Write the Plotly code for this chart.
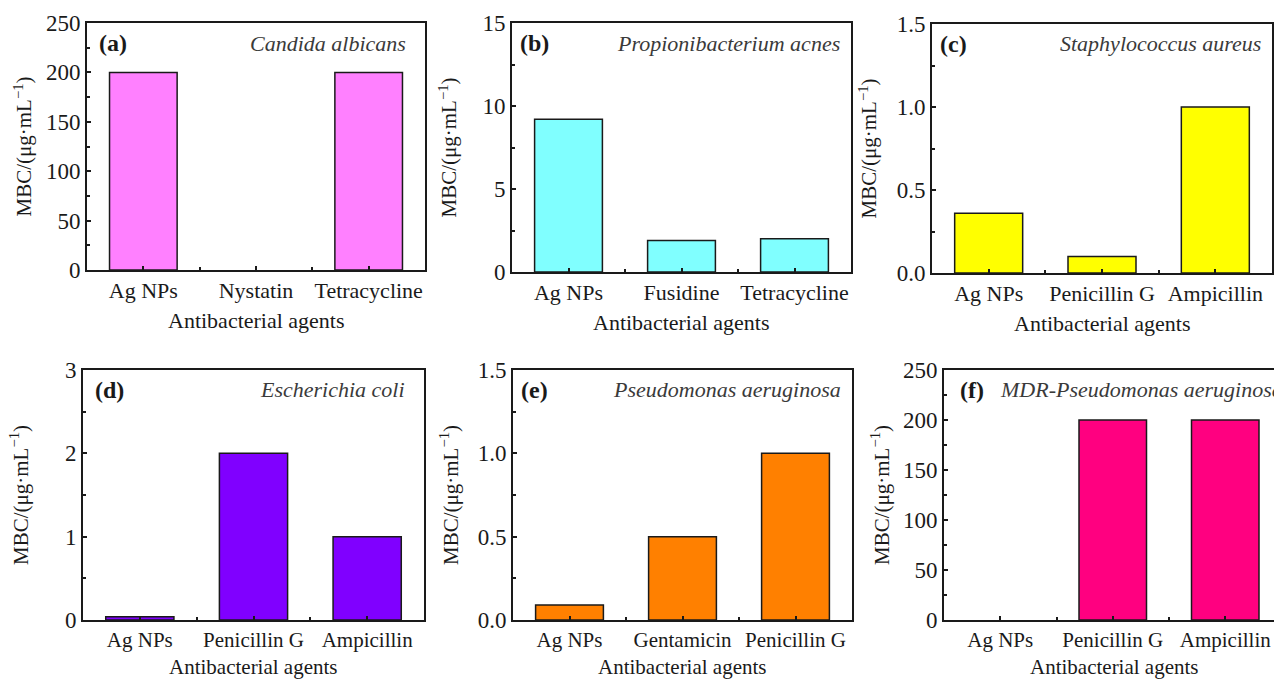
import plotly.graph_objects as go

W, H = 1274, 679

# ---- data ----
cats_a = ["Ag NPs", "Nystatin", "Tetracycline"]
vals_a = [200, 0, 200]
cats_b = ["Ag NPs", "Fusidine", "Tetracycline"]
vals_b = [9.2, 1.9, 2.0]
cats_c = ["Ag NPs", "Penicillin G", "Ampicillin"]
vals_c = [0.36, 0.10, 1.0]
cats_d = ["Ag NPs", "Penicillin G", "Ampicillin"]
vals_d = [0.04, 2.0, 1.0]
cats_e = ["Ag NPs", "Gentamicin", "Penicillin G"]
vals_e = [0.09, 0.5, 1.0]
cats_f = ["Ag NPs", "Penicillin G", "Ampicillin"]
vals_f = [0, 200, 200]

labels = ["(a)", "(b)", "(c)", "(d)", "(e)", "(f)"]
species = ["Candida albicans", "Propionibacterium acnes", "Staphylococcus aureus",
           "Escherichia coli", "Pseudomonas aeruginosa", "MDR-Pseudomonas aeruginosa"]
y_max = [250, 15, 1.5, 3, 1.5, 250]
y_dtick = [50, 5, 0.5, 1, 0.5, 50]
y_fmt = ["d", "d", ".1f", "d", ".1f", "d"]
colors = ["#FF80FF", "#80FFFF", "#FFFF00", "#8000FF", "#FF8000", "#FF0080"]
x_title = "Antibacterial agents"
y_title = "MBC/(μg·mL<sup>−1</sup>)"

panels = [(cats_a, vals_a), (cats_b, vals_b), (cats_c, vals_c),
          (cats_d, vals_d), (cats_e, vals_e), (cats_f, vals_f)]

# ---- layout geometry (pixels) ----
boxes = [(87, 425, 23, 270), (512, 851, 23, 272), (932, 1272, 24, 273),
         (83, 424, 370, 620), (513, 852, 370, 620), (944, 1274, 370, 620)]

FONT = "Liberation Serif"
INK = "#1a1a1a"

fig = go.Figure()
annotations = []
layout = dict(width=W, height=H, margin=dict(l=0, r=0, t=0, b=0),
              paper_bgcolor="white", plot_bgcolor="white", showlegend=False,
              font=dict(family=FONT, size=22, color=INK))

for i, ((cats, vals), (x0, x1, y0, y1)) in enumerate(zip(panels, boxes)):
    n = i + 1
    xa = "x" if n == 1 else f"x{n}"
    ya = "y" if n == 1 else f"y{n}"
    xs = list(range(len(cats)))
    fig.add_trace(go.Bar(x=xs, y=vals, xaxis=xa, yaxis=ya, width=0.6,
                         marker=dict(color=colors[i],
                                     line=dict(color=INK, width=[1.5 if v > 0 else 0 for v in vals]))))
    xr_end = 2.5 if n != 6 else -0.5 + (x1 - x0) / 112.5
    layout["xaxis" if n == 1 else f"xaxis{n}"] = dict(
        domain=[x0 / W, x1 / W], anchor=ya, range=[-0.5, xr_end],
        tickmode="array", tickvals=xs, ticktext=cats,
        ticks="inside", ticklen=4, tickwidth=2, tickcolor=INK,
        minor=dict(tickmode="array", tickvals=[0.5, 1.5], ticks="inside",
                   ticklen=3, tickwidth=2, tickcolor=INK),
        showline=True, linewidth=2, linecolor=INK, mirror=True,
        showgrid=False, zeroline=False, fixedrange=True, automargin=False,
        tickfont=dict(family=FONT, size=22 if n <= 3 else 21, color=INK))
    layout["yaxis" if n == 1 else f"yaxis{n}"] = dict(
        domain=[1 - y1 / H, 1 - y0 / H], anchor=xa, range=[0, y_max[i]],
        tick0=0, dtick=y_dtick[i], tickformat=y_fmt[i],
        ticks="inside", ticklen=4, tickwidth=2, tickcolor=INK,
        minor=dict(dtick=y_dtick[i] / 2, ticks="inside", ticklen=3,
                   tickwidth=2, tickcolor=INK),
        showline=True, linewidth=2, linecolor=INK, mirror=(n != 6),
        showgrid=False, zeroline=False, fixedrange=True, automargin=False,
        tickfont=dict(family=FONT, size=23, color=INK))
    # panel label
    lx = x0 + (14 if n == 6 else (10 if n in (1, 4) else 6))
    annotations.append(dict(text=f"<b>{labels[i]}</b>", x=lx / W, y=1 - (y0 + 20) / H,
                            xref="paper", yref="paper", xanchor="left", yanchor="middle",
                            showarrow=False, font=dict(family=FONT, size=24, color=INK)))
    # species
    if n == 6:
        sx, anchor = 998, "left"
    else:
        sx, anchor = x1 - (17 if n in (1, 4) else 9), "right"
    annotations.append(dict(text=f"<i>{species[i]}</i>", x=sx / W, y=1 - (y0 + 20) / H,
                            xref="paper", yref="paper", xanchor=anchor, yanchor="middle",
                            showarrow=False, font=dict(family=FONT, size=22, color="#3a3a3a")))
    # x title
    ty = y1 + (50 if n <= 3 else 47)
    annotations.append(dict(text=x_title, x=(x0 + 340 / 2) / W if n == 6 else (x0 + x1) / 2 / W,
                            y=1 - ty / H, xref="paper", yref="paper",
                            xanchor="center", yanchor="middle", showarrow=False,
                            font=dict(family=FONT, size=22 if n <= 3 else 21, color=INK)))
    # y title
    annotations.append(dict(text=y_title, x=(x0 - 64) / W, y=1 - (y0 + y1) / 2 / H,
                            xref="paper", yref="paper", xanchor="center", yanchor="middle",
                            textangle=-90, showarrow=False,
                            font=dict(family=FONT, size=21, color=INK)))

layout["annotations"] = annotations
fig.update_layout(**layout)
fig.write_html("out.html", config={"displayModeBar": False},
               post_script="document.body.style.margin='0px';document.body.style.overflow='hidden';")
